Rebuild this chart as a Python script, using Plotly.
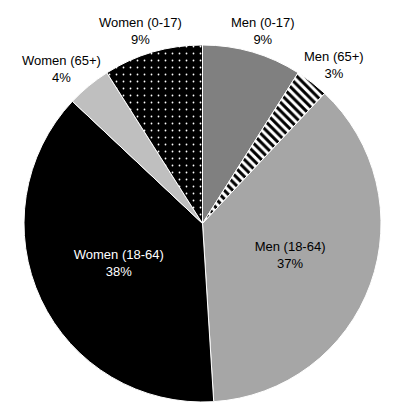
import math
import plotly.graph_objects as go

labels = ["Men (0-17)", "Men (65+)", "Men (18-64)", "Women (18-64)", "Women (65+)", "Women (0-17)"]
values = [9, 3, 37, 38, 4, 9]
colors = ["#808080", "#ffffff", "#a6a6a6", "#000000", "#bfbfbf", "#000000"]
outside = [True, True, False, False, True, True]
text_colors = ["#000000", "#000000", "#000000", "#ffffff", "#000000", "#000000"]
shapes = ["", "\\", "", "", "", "."]
pat_bg = ["#808080", "#ffffff", "#a6a6a6", "#000000", "#bfbfbf", "#000000"]
pat_fg = ["#808080", "#000000", "#a6a6a6", "#000000", "#bfbfbf", "#ffffff"]
pat_size = [8, 6, 8, 8, 8, 7]
pat_sol = [0.3, 0.5, 0.3, 0.3, 0.3, 0.05]

W, H = 417, 418
OFF = 8          # page body margin
CX, CY, R = 202.5, 223.5, 178.5   # pie centre / radius in window pixels
FONT = "Liberation Sans, Arial"
FS = 13

# pie domain in paper coordinates
fx0, fx1 = (CX - R - OFF) / W, (CX + R - OFF) / W
fy0, fy1 = 1 - (CY + R - OFF) / H, 1 - (CY - R - OFF) / H

total = sum(values)
tmpl = ["" if o else "%{label}<br>%{percent:.0%}" for o in outside]

fig = go.Figure(go.Pie(
    labels=labels,
    values=values,
    sort=False,
    direction="clockwise",
    rotation=0,
    textinfo="none",
    texttemplate=tmpl,
    textposition="inside",
    insidetextorientation="horizontal",
    textfont=dict(family=FONT, size=FS, color=text_colors),
    marker=dict(
        colors=colors,
        line=dict(color="#ffffff", width=1),
        pattern=dict(shape=shapes, bgcolor=pat_bg, fgcolor=pat_fg,
                     size=pat_size, solidity=pat_sol, fillmode="replace"),
    ),
    domain=dict(x=[fx0, fx1], y=[fy0, fy1]),
    showlegend=False,
    hoverinfo="skip",
))

# outside labels, placed along each slice's mid-angle
annotations = []
cum = 0.0
for lab, v, o in zip(labels, values, outside):
    mid = (cum + v / 2) / total * 2 * math.pi
    cum += v
    if not o:
        continue
    s, c = math.sin(mid), math.cos(mid)
    w_est, h_est = 6.5 * len(lab), 30
    gap = R + 6.5
    px = CX + gap * s + (w_est / 2) * s
    py = CY - gap * c - (h_est / 2) * c
    annotations.append(dict(
        x=(px - OFF) / W, y=1 - (py - OFF) / H, xref="paper", yref="paper",
        text=f"{lab}<br>{round(v / total * 100)}%", showarrow=False,
        xanchor="center", yanchor="middle",
        font=dict(family=FONT, size=FS, color="#000000"),
    ))

fig.update_layout(
    width=W, height=H,
    margin=dict(l=0, r=0, t=0, b=0),
    paper_bgcolor="#ffffff",
    plot_bgcolor="#ffffff",
    font=dict(family=FONT, size=FS, color="#000000"),
    annotations=annotations,
)

fig.write_html("out.html")
